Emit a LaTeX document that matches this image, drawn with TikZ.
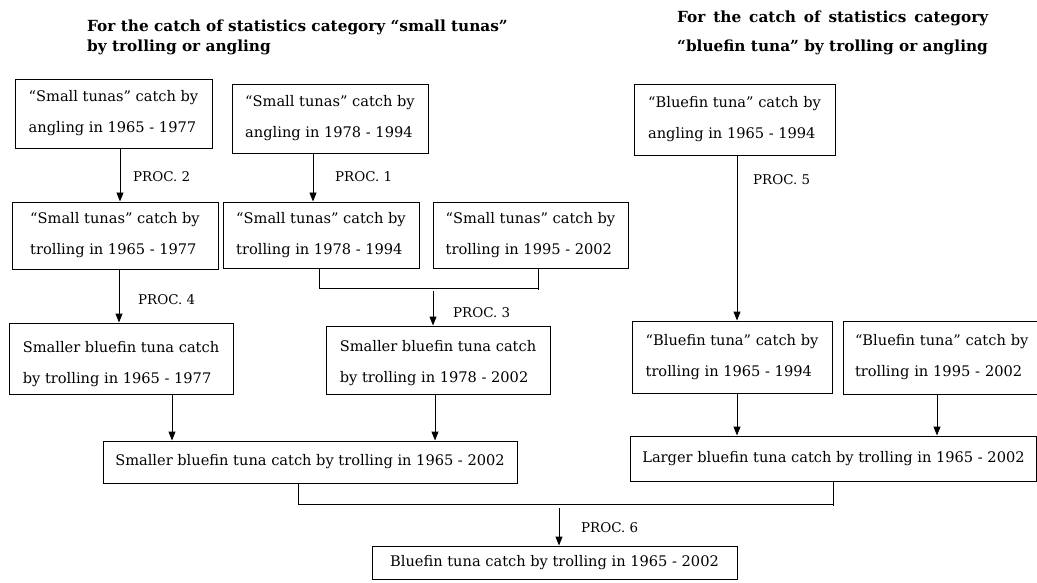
\documentclass[tikz,border=0pt]{standalone}
\usepackage{fontspec}
\setmainfont{DejaVu Serif}
\usetikzlibrary{arrows.meta,calc}
\newcommand{\tstrut}[1]{\rule{0pt}{#1}}
\tikzset{
  x=1pt, y=-1pt,
  box/.style={draw=black, line width=0.95pt, align=left, inner xsep=12pt, inner ysep=0pt,
    font=\fontsize{14.6}{31}\selectfont},
  ttl/.style={anchor=base west, inner sep=0pt, font=\fontsize{15.3}{18}\selectfont\bfseries},
  proc/.style={anchor=west, inner sep=0pt, font=\fontsize{13.4}{16}\selectfont},
  ln/.style={line width=0.95pt, draw=black},
  arr/.style={line width=0.95pt, draw=black, -{Triangle[length=9pt,width=7pt]}},
}
\begin{document}
\begin{tikzpicture}
\useasboundingbox (0,0) rectangle (1037,583);
\clip (0,0) rectangle (1037,583);
% titles
\node[ttl] (t1a) at (87,32) {For the catch of statistics category “small tunas”};
\node[ttl] (t1b) at (87,52) {by trolling or angling};
\node[ttl] (t2a) at (677,23) {\makebox[311pt][s]{For the catch of statistics category}};
\node[ttl] (t2b) at (677,52) {“bluefin tuna” by trolling or angling};
% row 1
\node[box, minimum width=197pt, minimum height=69pt] (A1) at (113.5,113.5) {“Small tunas” catch by\\angling in 1965 - 1977};
\node[box, minimum width=196pt, minimum height=69pt] (A2) at (330,118.5) {“Small tunas” catch by\\angling in 1978 - 1994};
\node[box, minimum width=201pt, minimum height=71pt] (A5) at (734.5,119.5) {“Bluefin tuna” catch by\\angling in 1965 - 1994};
% row 2
\node[box, minimum width=206pt, minimum height=67pt] (T1) at (115,235.5) {“Small tunas” catch by\\trolling in 1965 - 1977};
\node[box, minimum width=196pt, minimum height=66pt] (T2) at (321,235) {“Small tunas” catch by\\trolling in 1978 - 1994};
\node[box, minimum width=195pt, minimum height=66pt] (T3) at (530.5,235) {“Small tunas” catch by\\trolling in 1995 - 2002};
% row 3
\node[box, minimum width=224pt, minimum height=71pt] (S1) at (121,358.5) {\tstrut{23pt}Smaller bluefin tuna catch\\by trolling in 1965 - 1977};
\node[box, minimum width=224pt, minimum height=68pt] (S2) at (438,360) {\tstrut{17pt}Smaller bluefin tuna catch\\by trolling in 1978 - 2002};
\node[box, minimum width=200pt, minimum height=72pt] (B1) at (732,357) {“Bluefin tuna” catch by\\trolling in 1965 - 1994};
\node[box, minimum width=202pt, minimum height=73pt, text width=178pt] (B2) at (944,357.5) {“Bluefin tuna” catch by\\trolling in 1995 - 2002};
% row 4
\node[box, minimum width=414pt, minimum height=42pt] (M1) at (310,462) {Smaller bluefin tuna catch by trolling in 1965 - 2002};
\node[box, minimum width=405pt, minimum height=45pt] (L) at (833.5,458.5) {Larger bluefin tuna catch by trolling in 1965 - 2002};
% row 5
\node[box, minimum width=365pt, minimum height=33pt] (F) at (554.5,562.5) {Bluefin tuna catch by trolling in 1965 - 2002};
% arrows row1 -> row2
\draw[arr] ([xshift=6.5pt]A1.south) -- ([xshift=6.5pt]A1.south |- T1.north);
\node[proc] (p2) at (133,177) {PROC. 2};
\draw[arr] ([xshift=-17pt]A2.south) -- ([xshift=-17pt]A2.south |- T2.north);
\node[proc] (p1) at (335,177) {PROC. 1};
\draw[arr] ([xshift=2.5pt]A5.south) -- ([xshift=2.5pt]A5.south |- B1.north);
\node[proc] (p5) at (753,180) {PROC. 5};
% row2 -> row3
\draw[arr] ([xshift=4pt]T1.south) -- ([xshift=4pt]T1.south |- S1.north);
\node[proc] (p4) at (138,300) {PROC. 4};
\coordinate (b1l) at (319,288);
\coordinate (b1r) at (538,288);
\draw[ln] (T2.south -| b1l) -- (b1l) -- (b1r);
\draw[ln] (T3.south -| b1r) -- ([yshift=-2pt]b1r);
\coordinate (j3) at (433,291);
\draw[arr] (j3) -- (j3 |- S2.north);
\node[proc] (p3) at (453,313) {PROC. 3};
% row3 -> row4
\draw[arr] ([xshift=51pt]S1.south) -- ([xshift=51pt]S1.south |- M1.north);
\draw[arr] ([xshift=-3pt]S2.south) -- ([xshift=-3pt]S2.south |- M1.north);
\draw[arr] ([xshift=5pt]B1.south) -- ([xshift=5pt]B1.south |- L.north);
\draw[arr] ([xshift=-7pt]B2.south) -- ([xshift=-7pt]B2.south |- L.north);
% row4 -> final
\coordinate (b2l) at (298,504);
\coordinate (b2r) at (833,504);
\draw[ln] (M1.south -| b2l) -- (b2l) -- (b2r);
\draw[ln] (L.south -| b2r) -- ([yshift=-2pt]b2r);
\coordinate (j6) at (559,508);
\draw[arr] (j6) -- (j6 |- F.north);
\node[proc] (p6) at (581,528) {PROC. 6};
\end{tikzpicture}
\end{document}
